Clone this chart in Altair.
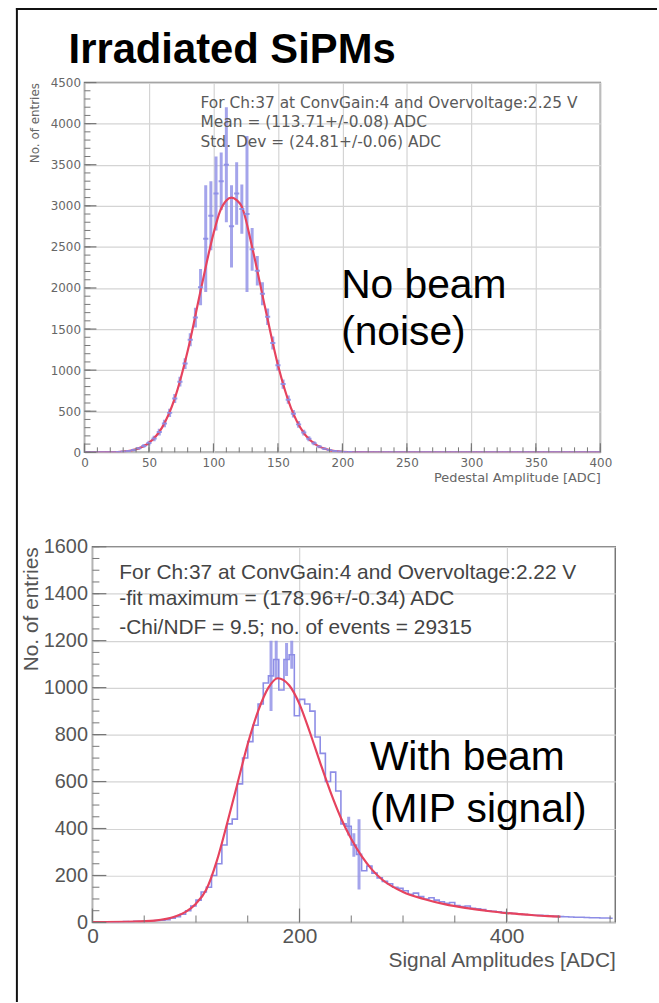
import altair as alt
import pandas as pd

# ---------------- data ----------------
# top panel: pedestal (no beam), bins of 4 ADC
top_bin_centers = [2 + 4 * i for i in range(100)]
top_counts = [0, 0, 0, 0, 1, 2, 4, 9, 16, 28,
              48, 78, 112, 168, 246, 350, 480, 655, 860, 1080,
              1370, 1640, 2010, 2600, 2880, 3150, 3300, 3500, 2750, 3150,
              2960, 2900, 2470, 2210, 1930, 1650, 1330, 1060, 830, 640,
              470, 340, 240, 165, 110, 70, 44, 27, 16, 9,
              5, 3, 1, 1] + [0] * 46
top_errors = [0, 0, 0, 0, 3, 4, 5, 8, 10, 14, 18, 22,
              28, 34, 40, 45, 50, 55, 60, 65,
              80, 120, 220,
              650, 420, 450, 350, 700, 500, 380, 300, 950, 260,
              180, 140,
              100, 80, 65, 55, 50, 45, 40,
              35, 30, 25, 20, 15, 12, 10, 8, 6, 4, 3, 2] + [0] * 46
top_fit_x = [0, 20, 30, 40, 50, 60, 70, 80, 90, 100, 105, 110, 114, 118, 122,
             130, 140, 150, 160, 170, 180, 190, 200, 210, 230, 400]
top_fit_y = [0, 2, 10, 37, 114, 297, 656, 1232, 1963, 2661, 2930, 3066, 3100,
             3070, 2990, 2497, 1766, 1062, 543, 236, 87, 27, 7, 2, 0, 0]

# bottom panel: signal (with beam), bins of 5 ADC
bot_bin_centers = [2.5 + 5 * i for i in range(101)]
bot_counts = [2, 1, 2, 3, 2, 3, 4, 3, 5, 4, 6, 7, 8, 10, 12,
              18, 25, 35, 50, 70, 95, 130, 150, 200, 250,
              330, 420, 440, 590, 700, 770, 840, 930, 1020, 1050,
              1120, 990, 1120, 1140, 880, 950, 930, 900, 790, 720,
              600, 640, 560, 420, 410, 330, 290, 220, 240, 210,
              190, 175, 165, 150, 145, 135, 120, 125, 110, 100,
              105, 95, 88, 82, 85, 72, 68, 70, 60, 58,
              55, 50, 48, 45, 42, 40, 38, 36, 34, 33,
              31, 30, 29, 27, 26, 25, 24, 23, 22, 22,
              21, 20, 20, 19, 19, 18]
bot_err_x = [172.5, 177.5, 187.5, 192.5, 247.5, 252.5, 257.5]
bot_err_half = [150, 80, 70, 60, 40, 50, 150]
bot_fit_x = [0, 40, 60, 80, 90, 100, 110, 120, 130, 140, 150, 160, 170, 179,
             190, 200, 210, 220, 230, 240, 250, 260, 270, 280, 300, 320, 340,
             360, 380, 400, 420, 440, 452]
bot_fit_y = [2, 4, 8, 25, 45, 80, 140, 260, 420, 590, 760, 900, 1000, 1040,
             1010, 930, 810, 680, 555, 445, 355, 282, 225, 182, 130, 100, 78,
             62, 50, 40, 33, 27, 25]

# axis ticks
top_x_labels = [0, 50, 100, 150, 200, 250, 300, 350, 400]
top_x_minor = list(range(0, 401, 10))
top_y_labels = [0, 500, 1000, 1500, 2000, 2500, 3000, 3500, 4000, 4500]
top_y_minor = list(range(0, 4501, 100))
bot_x_labels = [0, 200, 400]
bot_x_minor = list(range(0, 501, 50))
bot_y_labels = [0, 200, 400, 600, 800, 1000, 1200, 1400, 1600]
bot_y_minor = list(range(0, 1601, 50))

# texts
title_text = "Irradiated SiPMs"
top_notes = ["For Ch:37 at ConvGain:4 and Overvoltage:2.25 V",
             "Mean = (113.71+/-0.08) ADC",
             "Std. Dev = (24.81+/-0.06) ADC"]
top_note_x = 90
top_note_y = [4246, 4016, 3774]
top_big = ["No beam", "(noise)"]
top_big_x = 199
top_big_y = [1875, 1306]
bot_notes = ["For Ch:37 at ConvGain:4 and Overvoltage:2.22 V",
             "-fit maximum = (178.96+/-0.34) ADC",
             "-Chi/NDF = 9.5; no. of events = 29315"]
bot_note_x = 26
bot_note_y = [1486, 1376, 1253]
bot_big = ["With beam", "(MIP signal)"]
bot_big_x = 268
bot_big_y = [648, 428]

# ---------------- styles ----------------
BLUE = "#8d8de6"
RED = "#e6435e"
TICK = "#777777"
GRID = "#d4d4d4"
TW, TH = 519, 372
BW, BH = 526, 378

# ---------------- top panel ----------------
sx_top = alt.Scale(domain=[0, 400], nice=False, zero=False)
sy_top = alt.Scale(domain=[0, 4500], nice=False)
X_top = alt.X("x:Q", scale=sx_top, axis=alt.Axis(
    values=top_x_labels, format="d", ticks=False, domain=False, grid=True,
    gridColor=GRID, gridWidth=1.2, labelFont="DejaVu Sans", labelFontSize=12,
    labelColor="#666", labelPadding=5, labelOverlap=False, labelFlush=False,
    title="Pedestal Amplitude [ADC]", titleFont="DejaVu Sans",
    titleFontSize=13, titleFontWeight="normal", titleColor="#666",
    titleAnchor="end", titlePadding=3))
Y_top = alt.Y("y:Q", scale=sy_top, axis=alt.Axis(
    values=top_y_labels, format="d", ticks=False, domain=False, grid=True,
    gridColor=GRID, gridWidth=1.2, labelFont="DejaVu Sans", labelFontSize=12,
    labelColor="#666", labelPadding=4, labelOverlap=False, labelFlush=False,
    title="No. of entries", titleFont="DejaVu Sans", titleFontSize=12,
    titleFontWeight="normal", titleColor="#666", titleAnchor="end",
    titlePadding=9))

t_bins = pd.DataFrame({"x": [c - 2 for c in top_bin_centers],
                       "x2": [c + 2 for c in top_bin_centers],
                       "y": top_counts})
t_err = pd.DataFrame({"x": top_bin_centers,
                      "y": [v - e for v, e in zip(top_counts, top_errors)],
                      "y2": [v + e for v, e in zip(top_counts, top_errors)],
                      "e": top_errors})
t_err = t_err[t_err["e"] > 0]
t_fit = pd.DataFrame({"x": top_fit_x, "y": top_fit_y})

one = pd.DataFrame({"a": [0]})

top_layers = [
    alt.Chart(t_err).mark_rule(color=BLUE, strokeWidth=3, opacity=0.8, clip=True)
    .encode(x=X_top, y=Y_top, y2="y2:Q"),
    alt.Chart(t_fit).mark_line(color=RED, strokeWidth=2.2, interpolate="monotone", clip=True)
    .encode(x=X_top, y=Y_top),
    alt.Chart(t_bins).mark_rule(color=BLUE, strokeWidth=2, opacity=0.9, clip=True)
    .encode(x=X_top, x2="x2:Q", y=Y_top),
    alt.Chart(pd.DataFrame({"x": top_x_labels})).mark_rule(color=TICK, strokeWidth=1.2)
    .encode(x=X_top, y=alt.value(TH), y2=alt.value(TH - 9)),
    alt.Chart(pd.DataFrame({"x": top_x_minor})).mark_rule(color=TICK, strokeWidth=1)
    .encode(x=X_top, y=alt.value(TH), y2=alt.value(TH - 5)),
    alt.Chart(pd.DataFrame({"y": top_y_labels})).mark_rule(color=TICK, strokeWidth=1.2)
    .encode(y=Y_top, x=alt.value(0), x2=alt.value(12)),
    alt.Chart(pd.DataFrame({"y": top_y_minor})).mark_rule(color=TICK, strokeWidth=1)
    .encode(y=Y_top, x=alt.value(0), x2=alt.value(6)),
    alt.Chart(pd.DataFrame({"x": [top_note_x] * 3, "y": top_note_y, "t": top_notes}))
    .mark_text(align="left", baseline="middle", font="DejaVu Sans", fontSize=15.5, color="#5a5a5a")
    .encode(x=X_top, y=Y_top, text="t:N"),
    alt.Chart(pd.DataFrame({"x": [top_big_x] * 2, "y": top_big_y, "t": top_big}))
    .mark_text(align="left", baseline="alphabetic", font="Liberation Sans", fontSize=41, color="black")
    .encode(x=X_top, y=Y_top, text="t:N"),
    alt.Chart(pd.DataFrame({"t": [title_text]}))
    .mark_text(align="left", baseline="alphabetic", font="Liberation Sans", fontSize=42,
               fontWeight="bold", color="black")
    .encode(x=alt.value(-16), y=alt.value(-20), text="t:N"),
    alt.Chart(one).mark_rule(color="#111", strokeWidth=2)
    .encode(x=alt.value(-68), y=alt.value(-75), y2=alt.value(925)),
    alt.Chart(one).mark_rule(color="#111", strokeWidth=2)
    .encode(y=alt.value(-74), x=alt.value(-69), x2=alt.value(576)),
]
top = alt.layer(*top_layers).properties(width=TW, height=TH)

# ---------------- bottom panel ----------------
sx_bot = alt.Scale(domain=[0, 505], nice=False, zero=False)
sy_bot = alt.Scale(domain=[0, 1600], nice=False)
X_bot = alt.X("x:Q", scale=sx_bot, axis=alt.Axis(
    values=bot_x_labels, format="d", ticks=False, domain=False, grid=True,
    gridColor=GRID, gridWidth=1.2, labelFont="Liberation Sans", labelFontSize=21,
    labelColor="#555", labelPadding=3, labelOverlap=False, labelFlush=False,
    title="Signal Amplitudes [ADC]", titleFont="Liberation Sans",
    titleFontSize=21, titleFontWeight="normal", titleColor="#555",
    titleAnchor="end", titlePadding=3))
Y_bot = alt.Y("y:Q", scale=sy_bot, axis=alt.Axis(
    values=bot_y_labels, format="d", ticks=False, domain=False, grid=True,
    gridColor=GRID, gridWidth=1.2, labelFont="Liberation Sans", labelFontSize=20,
    labelColor="#555", labelPadding=5, labelOverlap=False, labelFlush=False,
    title="No. of entries", titleFont="Liberation Sans", titleFontSize=21,
    titleFontWeight="normal", titleColor="#555", titleAnchor="end",
    titlePadding=2))

b_hist = pd.DataFrame({"x": bot_bin_centers, "y": bot_counts})
b_val = dict(zip(bot_bin_centers, bot_counts))
b_err = pd.DataFrame({"x": bot_err_x,
                      "y": [b_val[c] - e for c, e in zip(bot_err_x, bot_err_half)],
                      "y2": [b_val[c] + e for c, e in zip(bot_err_x, bot_err_half)]})
b_fit = pd.DataFrame({"x": bot_fit_x, "y": bot_fit_y})

bot_layers = [
    alt.Chart(b_hist).mark_line(color=BLUE, strokeWidth=1.6, interpolate="step", clip=True)
    .encode(x=X_bot, y=Y_bot),
    alt.Chart(b_err).mark_rule(color=BLUE, strokeWidth=3, opacity=0.8, clip=True)
    .encode(x=X_bot, y=Y_bot, y2="y2:Q"),
    alt.Chart(b_fit).mark_line(color=RED, strokeWidth=2.2, interpolate="monotone", clip=True)
    .encode(x=X_bot, y=Y_bot),
    alt.Chart(pd.DataFrame({"x": bot_x_labels})).mark_rule(color=TICK, strokeWidth=1.2)
    .encode(x=X_bot, y=alt.value(BH), y2=alt.value(BH - 14)),
    alt.Chart(pd.DataFrame({"x": bot_x_minor})).mark_rule(color=TICK, strokeWidth=1)
    .encode(x=X_bot, y=alt.value(BH), y2=alt.value(BH - 7)),
    alt.Chart(pd.DataFrame({"y": bot_y_labels})).mark_rule(color=TICK, strokeWidth=1.2)
    .encode(y=Y_bot, x=alt.value(0), x2=alt.value(14)),
    alt.Chart(pd.DataFrame({"y": bot_y_minor})).mark_rule(color=TICK, strokeWidth=1)
    .encode(y=Y_bot, x=alt.value(0), x2=alt.value(7)),
    alt.Chart(pd.DataFrame({"x": [bot_note_x] * 3, "y": bot_note_y, "t": bot_notes}))
    .mark_text(align="left", baseline="middle", font="Liberation Sans", fontSize=21, color="#444")
    .encode(x=X_bot, y=Y_bot, text="t:N"),
    alt.Chart(pd.DataFrame({"x": [bot_big_x] * 2, "y": bot_big_y, "t": bot_big}))
    .mark_text(align="left", baseline="alphabetic", font="Liberation Sans", fontSize=41, color="black")
    .encode(x=X_bot, y=Y_bot, text="t:N"),
]
bottom = alt.layer(*bot_layers).properties(width=BW, height=BH)

spacer = (alt.Chart(one).mark_point(opacity=0, size=1)
          .encode(x=alt.value(0), y=alt.value(0))
          .properties(width=8, height=BH, view=alt.ViewBackground(stroke="transparent")))

chart = (alt.vconcat(top, alt.hconcat(spacer, bottom, spacing=0, bounds="flush"),
                     spacing=95, bounds="flush")
         .properties(padding={"left": 14, "top": 3, "right": 0, "bottom": 0},
                     background="white")
         .configure_view(stroke="#777", strokeWidth=1.5))

chart.save("out.html", embed_options={"renderer": "svg", "actions": False})
